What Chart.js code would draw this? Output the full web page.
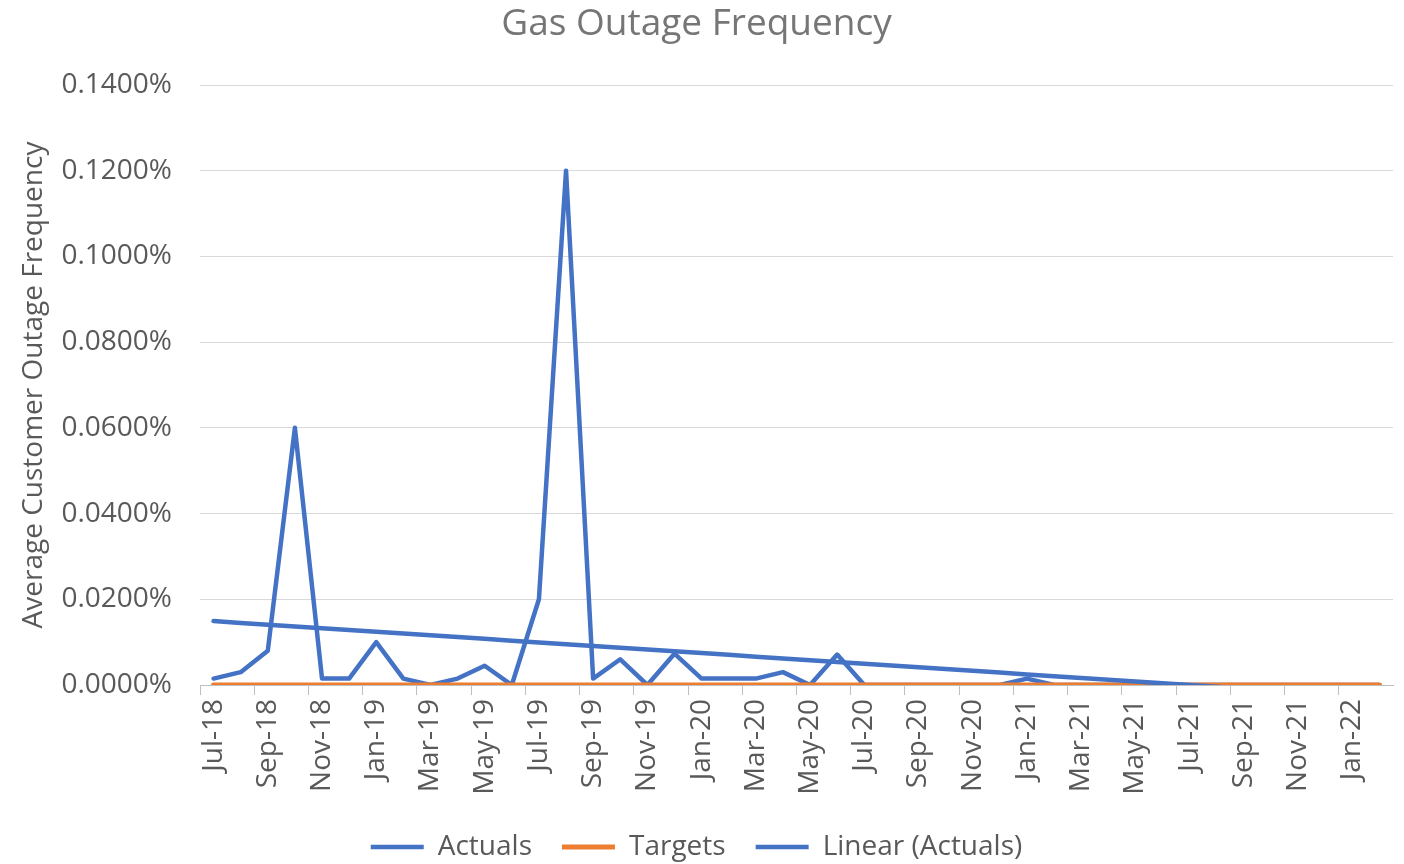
<!DOCTYPE html>
<html>
<head>
<meta charset="utf-8">
<script src="https://cdn.jsdelivr.net/npm/chart.js@4.4.1/dist/chart.umd.min.js"></script>
<style>
  html, body { margin: 0; padding: 0; background: #ffffff; }
  #wrap { width: 1404px; height: 864px; position: relative; }
</style>
</head>
<body>
<div id="wrap"><canvas id="c" width="1404" height="864"></canvas></div>
<script>
const categories = [
  'Jul-18','Aug-18','Sep-18','Oct-18','Nov-18','Dec-18',
  'Jan-19','Feb-19','Mar-19','Apr-19','May-19','Jun-19','Jul-19','Aug-19','Sep-19','Oct-19','Nov-19','Dec-19',
  'Jan-20','Feb-20','Mar-20','Apr-20','May-20','Jun-20','Jul-20','Aug-20','Sep-20','Oct-20','Nov-20','Dec-20',
  'Jan-21','Feb-21','Mar-21','Apr-21','May-21','Jun-21','Jul-21','Aug-21','Sep-21','Oct-21','Nov-21','Dec-21',
  'Jan-22','Feb-22'
];
// values in percent
const actuals = [
  0.0015, 0.0030, 0.0080, 0.0600, 0.0015, 0.0015,
  0.0100, 0.0015, 0.0000, 0.0015, 0.0045, 0.0000, 0.0200, 0.1200, 0.0015, 0.0060, 0.0000, 0.0073,
  0.0015, 0.0015, 0.0015, 0.0030, 0.0000, 0.0071, 0.0000, 0.0000, 0.0000, 0.0000, 0.0000, 0.0000,
  0.0015, 0.0000, 0.0000, 0.0000, 0.0000, 0.0000, 0.0000, 0.0000, 0.0000, 0.0000, 0.0000, 0.0000,
  0.0000, 0.0000
];
const targets = [
  0, 0, 0, 0, 0, 0,
  0, 0, 0, 0, 0, 0, 0, 0, 0, 0, 0, 0,
  0, 0, 0, 0, 0, 0, 0, 0, 0, 0, 0, 0,
  0, 0, 0, 0, 0, 0, 0, 0, 0, 0, 0, 0,
  0, 0
];
const yTicks = [0, 0.02, 0.04, 0.06, 0.08, 0.10, 0.12, 0.14];

// Linear trendline (least squares) of actuals
function linearFit(ys) {
  const n = ys.length;
  let sx = 0, sy = 0, sxy = 0, sxx = 0;
  ys.forEach((y, i) => { sx += i; sy += y; sxy += i * y; sxx += i * i; });
  const slope = (n * sxy - sx * sy) / (n * sxx - sx * sx);
  const inter = (sy - slope * sx) / n;
  return ys.map((_, i) => inter + slope * i);
}
const trend = linearFit(actuals);

const FONT = 'Open Sans';
const GREY = '#595959';
const TITLE_GREY = '#767676';
const BLUE = '#4472C4';
const ORANGE = '#ED7D31';

new Chart(document.getElementById('c'), {
  type: 'line',
  data: {
    labels: categories,
    datasets: [
      { label: 'Actuals', data: actuals, borderColor: BLUE, backgroundColor: BLUE,
        borderWidth: 4.5, pointRadius: 0, tension: 0, order: 2, borderJoinStyle: 'round', borderCapStyle: 'round' },
      { label: 'Targets', data: targets, borderColor: ORANGE, backgroundColor: ORANGE,
        borderWidth: 5, pointRadius: 0, tension: 0, order: 1, borderCapStyle: 'round' },
      { label: 'Linear (Actuals)', data: trend, borderColor: BLUE, backgroundColor: BLUE,
        borderWidth: 4.5, pointRadius: 0, tension: 0, order: 0, borderCapStyle: 'round' }
    ]
  },
  options: {
    responsive: false,
    animation: false,
    events: [],
    layout: { padding: { left: 0, right: 11, top: 0, bottom: -7 } },
    plugins: {
      title: {
        display: true, text: 'Gas Outage Frequency', color: TITLE_GREY,
        font: { family: FONT, size: 37, weight: 'normal' },
        padding: { top: 2, bottom: 38.6 }
      },
      legend: {
        position: 'bottom',
        labels: {
          color: GREY,
          font: { family: FONT, size: 28 },
          usePointStyle: true,
          pointStyle: 'line',
          pointStyleWidth: 53,
          padding: 30,
          sort: (a, b) => a.datasetIndex - b.datasetIndex
        }
      },
      tooltip: { enabled: false }
    },
    scales: {
      x: {
        offset: true,
        grid: {
          offset: true,
          drawOnChartArea: false,
          drawTicks: true,
          tickLength: 10,
          color: (ctx) => (ctx.index % 2 === 0 ? '#bfbfbf' : 'rgba(0,0,0,0)')
        },
        border: { display: true, color: '#bfbfbf', width: 1 },
        ticks: {
          autoSkip: false,
          maxRotation: 90, minRotation: 90,
          color: GREY,
          font: { family: FONT, size: 28 },
          padding: 4,
          callback: function (v, i) { return i % 2 === 0 ? categories[i] : ''; }
        },
        afterFit: (s) => { s.height = 118; s.paddingLeft = 0; s.paddingRight = 0; }
      },
      y: {
        min: 0, max: 0.14,
        afterBuildTicks: (s) => { s.ticks = yTicks.map(v => ({ value: v })); },
        grid: { color: '#d9d9d9', drawTicks: false, lineWidth: 1 },
        border: { display: false },
        ticks: {
          color: GREY,
          font: { family: FONT, size: 28 },
          padding: 28,
          callback: (v) => v.toFixed(4) + '%'
        },
        title: {
          display: true, text: 'Average Customer Outage Frequency', color: GREY,
          font: { family: FONT, size: 28 }, padding: { top: 17, bottom: 0 }
        },
        afterFit: (s) => { s.width = 200; }
      }
    }
  }
});
</script>
</body>
</html>
